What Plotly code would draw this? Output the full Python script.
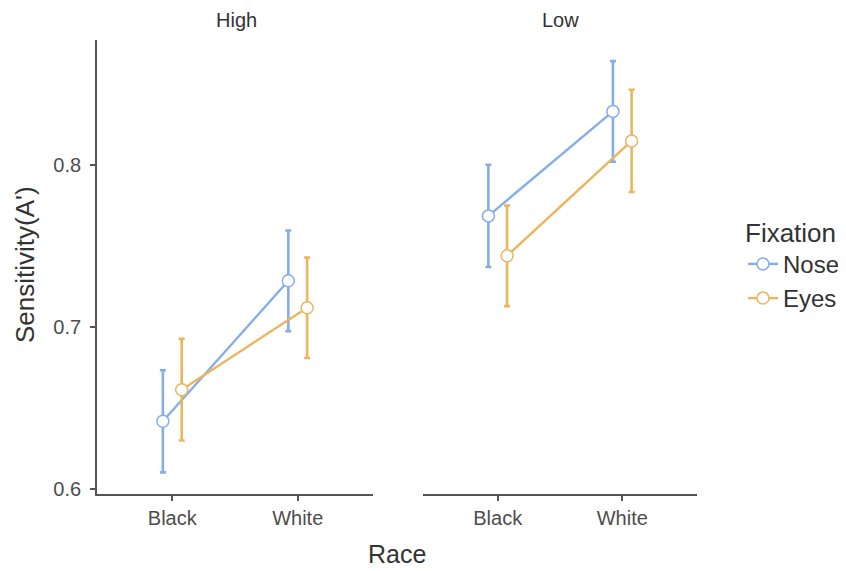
import plotly.graph_objects as go

races = ["Black", "White"]
panels = ["High", "Low"]
fixations = ["Nose", "Eyes"]
colors = {"Nose": "#86ADE9", "Eyes": "#EBB55E"}

# mean sensitivity per panel / fixation / race
means = {
    "High": {"Nose": [0.642, 0.7286], "Eyes": [0.6615, 0.712]},
    "Low": {"Nose": [0.7686, 0.833], "Eyes": [0.744, 0.8148]},
}
# half-width of error bars
errs = {
    "High": {"Nose": [0.0315, 0.031], "Eyes": [0.0313, 0.031]},
    "Low": {"Nose": [0.0315, 0.031], "Eyes": [0.031, 0.0315]},
}
dodge = {"Nose": -0.075, "Eyes": 0.075}

W, H, OFF = 846, 571, 8  # page body margin offset


def PX(x):
    return (x - OFF) / W


def PY(y):
    return 1 - (y - OFF) / H


fig = go.Figure()
font = "Liberation Sans, Arial, sans-serif"

for pi, panel in enumerate(panels):
    xa = "x" if pi == 0 else "x2"
    ya = "y" if pi == 0 else "y2"
    for fx in fixations:
        xs = [i + 1 + dodge[fx] for i in range(len(races))]
        fig.add_trace(go.Scatter(
            x=xs, y=means[panel][fx], xaxis=xa, yaxis=ya,
            mode="lines+markers", name=fx,
            showlegend=(pi == 0),
            line=dict(color=colors[fx], width=2.4),
            marker=dict(size=12, color="white", line=dict(color=colors[fx], width=1.5)),
            error_y=dict(type="data", array=errs[panel][fx], color=colors[fx],
                         thickness=2.6, width=3),
        ))

axis_common = dict(
    range=[0.4, 2.6], tickvals=[1, 2], ticktext=races, showgrid=False,
    zeroline=False, showline=True, linecolor="#555555", linewidth=1.8,
    ticks="outside", ticklen=5, tickcolor="#555555", tickwidth=1.8,
    tickfont=dict(family=font, size=20, color="#4d4d4d"), automargin=False,
)
ydom = [PY(494), PY(40)]
fig.update_layout(
    width=W, height=H, plot_bgcolor="white", paper_bgcolor="white",
    margin=dict(l=0, r=0, t=0, b=0),
    xaxis=dict(domain=[PX(97), PX(373)], anchor="y", **axis_common),
    xaxis2=dict(domain=[PX(423), PX(697)], anchor="y2", **axis_common),
    yaxis=dict(domain=ydom, range=[0.5972, 0.877],
               tickvals=[0.6, 0.7, 0.8], ticktext=["0.6", "0.7", "0.8"],
               showgrid=False, zeroline=False, showline=True, linecolor="#555555",
               linewidth=1.8, ticks="outside", ticklen=5, tickcolor="#555555", tickwidth=1.8,
               ticklabelstandoff=5,
               tickfont=dict(family=font, size=20, color="#4d4d4d"), automargin=False),
    yaxis2=dict(domain=ydom, range=[0.5972, 0.877], anchor="x2",
                showgrid=False, zeroline=False, showline=False, showticklabels=False,
                ticks="", automargin=False),
    legend=dict(x=PX(743), y=PY(208), xanchor="left", yanchor="top",
                tracegroupgap=0,
                title=dict(text="Fixation", font=dict(family=font, size=26, color="#333333")),
                font=dict(family=font, size=24, color="#333333"),
                bgcolor="rgba(0,0,0,0)"),
    annotations=[
        dict(text="High", x=PX(236), y=PY(20), xref="paper", yref="paper",
             xanchor="center", yanchor="middle",
             showarrow=False, font=dict(family=font, size=20, color="#333333")),
        dict(text="Low", x=PX(560), y=PY(20), xref="paper", yref="paper",
             xanchor="center", yanchor="middle",
             showarrow=False, font=dict(family=font, size=20, color="#333333")),
        dict(text="Race", x=PX(397), y=PY(554), xref="paper", yref="paper",
             xanchor="center", yanchor="middle",
             showarrow=False, font=dict(family=font, size=25, color="#333333")),
        dict(text="Sensitivity(A')", x=PX(25), y=PY(265), xref="paper", yref="paper",
             xanchor="center", yanchor="middle",
             textangle=-90, showarrow=False, font=dict(family=font, size=26, color="#333333")),
    ],
)

fig.write_html("out.html")
